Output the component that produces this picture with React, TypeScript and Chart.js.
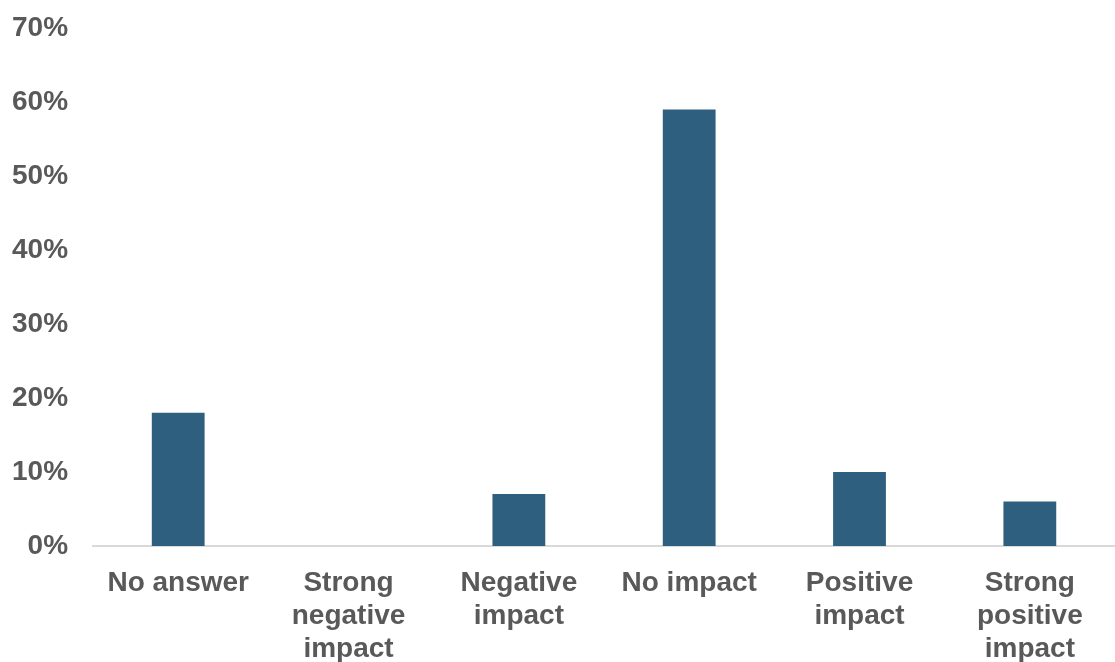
import React, { useEffect, useRef } from "react";
import { Chart, registerables } from "chart.js";

Chart.register(...registerables);

const categories: (string | string[])[] = [
  "No answer",
  ["Strong", "negative", "impact"],
  ["Negative", "impact"],
  "No impact",
  ["Positive", "impact"],
  ["Strong", "positive", "impact"],
];
const values = [18, 0, 7, 59, 10, 6];
const yTicks = [0, 10, 20, 30, 40, 50, 60, 70];

export default function App() {
  const ref = useRef<HTMLCanvasElement | null>(null);
  useEffect(() => {
    document.body.style.margin = "0";
    if (!ref.current) return;
    const font = { family: "'Liberation Sans', Arial, sans-serif", size: 28, weight: "bold" as const, lineHeight: 1.18 };
    const chart = new Chart(ref.current, {
      type: "bar",
      data: {
        labels: categories,
        datasets: [
          {
            data: values,
            backgroundColor: "#2E5F7E",
            barPercentage: 0.31,
            categoryPercentage: 1,
          },
        ],
      },
      options: {
        animation: false,
        responsive: false,
        maintainAspectRatio: false,
        layout: { padding: { left: -13, right: 0, top: 28, bottom: -25 } },
        plugins: { legend: { display: false }, tooltip: { enabled: false } },
        scales: {
          x: {
            grid: { display: false, drawTicks: false },
            border: { display: true, color: "#D9D9D9", width: 2 },
            ticks: { color: "#595959", font, padding: 21, maxRotation: 0, autoSkip: false },
          },
          y: {
            min: 0,
            max: 70,
            afterBuildTicks: (scale: any) => {
              scale.ticks = yTicks.map((v) => ({ value: v }));
            },
            afterFit: (scale: any) => {
              scale.paddingTop = 0;
              scale.paddingBottom = 0;
            },
            grid: { display: false, drawTicks: false },
            border: { display: false },
            ticks: {
              color: "#595959",
              font,
              padding: 25,
              callback: (v: any) => v + "%",
            },
          },
        },
      },
    });
    return () => chart.destroy();
  }, []);
  return (
    <div style={{ position: "absolute", left: 0, top: 0, width: 1115, height: 662 }}>
      <canvas ref={ref} width={1115} height={662} style={{ width: 1115, height: 662 }} />
    </div>
  );
}
